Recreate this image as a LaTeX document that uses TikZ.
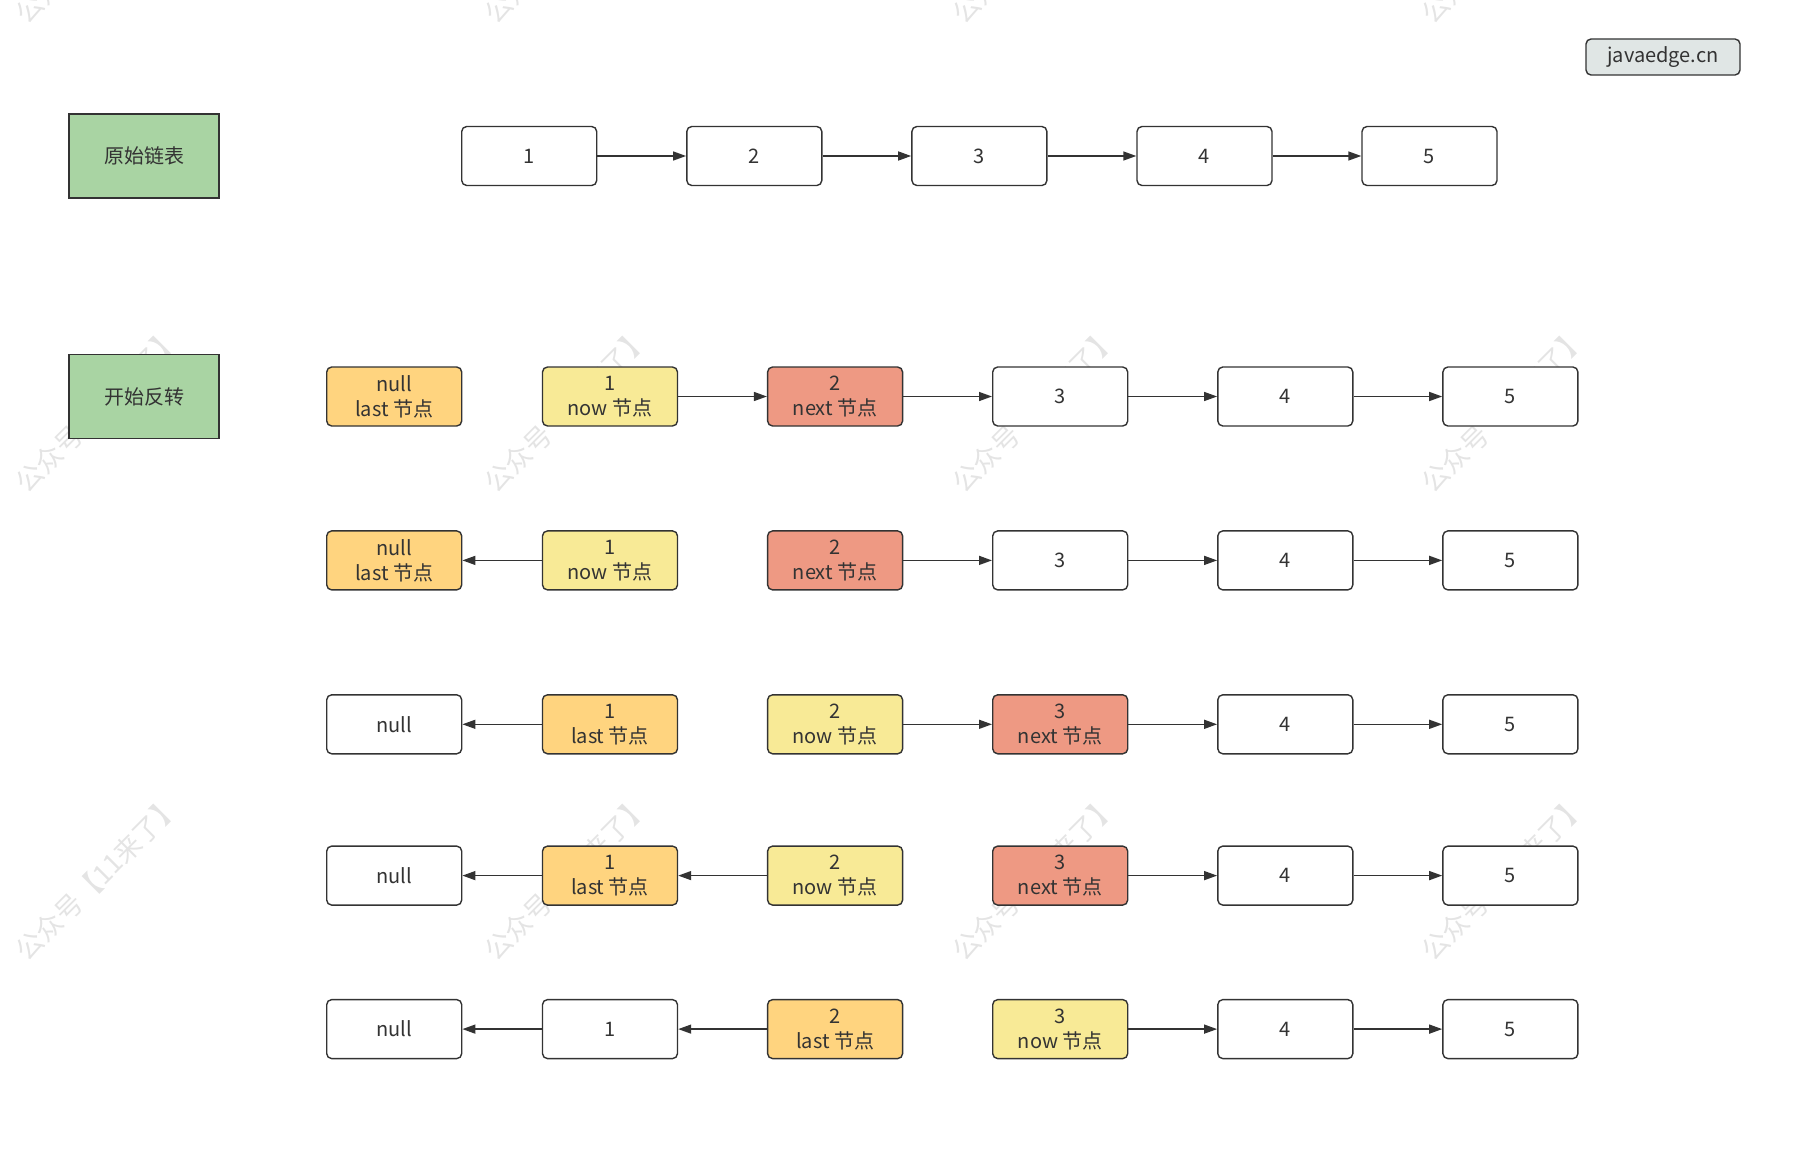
\documentclass[tikz,border=0pt]{standalone}
\usepackage{fontspec}
\setmainfont{Noto Sans CJK SC}
\usetikzlibrary{arrows.meta}
\definecolor{ln}{HTML}{333333}
\definecolor{cOr}{HTML}{FFD47F}
\definecolor{cYe}{HTML}{F8EA96}
\definecolor{cRe}{HTML}{EE9983}
\definecolor{cGr}{HTML}{A9D4A3}
\definecolor{cTag}{HTML}{E0E6E5}
\definecolor{wm}{HTML}{E4E4E4}
\tikzset{
  box/.style={draw=ln, line width=1.4pt, rounded corners=5pt, minimum width=135pt, minimum height=59pt, inner sep=0pt, align=center, font=\fontsize{20}{25}\selectfont, text=ln, fill=white},
  lbl/.style={draw=ln, line width=1.4pt, fill=cGr, minimum width=150pt, minimum height=84pt, inner sep=0pt, font=\fontsize{20}{25}\selectfont, text=ln},
  tag/.style={draw=ln, line width=1.4pt, rounded corners=5pt, fill=cTag, minimum width=154pt, minimum height=36pt, inner sep=0pt, font=\fontsize{20}{25}\selectfont, text=ln},
  arr/.style={draw=ln, line width=1.4pt, -{Triangle[length=13pt,width=9pt]}},
  wmark/.style={rotate=45, text=wm, font=\fontsize{27}{30}\selectfont, inner sep=0pt},
}
\begin{document}
\begin{tikzpicture}[x=1pt,y=-1pt]
\useasboundingbox (0,0) rectangle (1810,1156);
% watermarks
\begin{scope}
\clip (0,0) rectangle (1810,1156);
\foreach \wx in {98,567,1035,1504}{
  \foreach \wy in {-59,410,878}{
    \node[wmark] (w\wx-\wy) at (\wx,\wy) {公众号【11来了】};
  }
}
\end{scope}
% tag
\node[tag] (tag) at (1663,57) {javaedge.cn};
% labels
\node[lbl] (L1) at (144,156) {原始链表};
\node[lbl] (L2) at (144,396.5) {开始反转};
% top row
\node[box] (t1) at (529.2,156) {1};
\node[box] (t2) at (754.3,156) {2};
\node[box] (t3) at (979.4,156) {3};
\node[box] (t4) at (1204.5,156) {4};
\node[box] (t5) at (1429.5,156) {5};
\draw[arr] (t1) -- (t2);
\draw[arr] (t2) -- (t3);
\draw[arr] (t3) -- (t4);
\draw[arr] (t4) -- (t5);
% row a
\node[box, fill=cOr] (a0) at (394.2,396.5) {null\\last 节点};
\node[box, fill=cYe] (a1) at (610.0,396.5) {1\\now 节点};
\node[box, fill=cRe] (a2) at (835.1,396.5) {2\\next 节点};
\node[box] (a3) at (1060.2,396.5) {3};
\node[box] (a4) at (1285.3,396.5) {4};
\node[box] (a5) at (1510.4,396.5) {5};
\draw[arr] (a1) -- (a2);
\draw[arr] (a2) -- (a3);
\draw[arr] (a3) -- (a4);
\draw[arr] (a4) -- (a5);
% row b
\node[box, fill=cOr] (b0) at (394.2,560.4) {null\\last 节点};
\node[box, fill=cYe] (b1) at (610.0,560.4) {1\\now 节点};
\node[box, fill=cRe] (b2) at (835.1,560.4) {2\\next 节点};
\node[box] (b3) at (1060.2,560.4) {3};
\node[box] (b4) at (1285.3,560.4) {4};
\node[box] (b5) at (1510.4,560.4) {5};
\draw[arr] (b1) -- (b0);
\draw[arr] (b2) -- (b3);
\draw[arr] (b3) -- (b4);
\draw[arr] (b4) -- (b5);
% row c
\node[box] (c0) at (394.2,724.3) {null};
\node[box, fill=cOr] (c1) at (610.0,724.3) {1\\last 节点};
\node[box, fill=cYe] (c2) at (835.1,724.3) {2\\now 节点};
\node[box, fill=cRe] (c3) at (1060.2,724.3) {3\\next 节点};
\node[box] (c4) at (1285.3,724.3) {4};
\node[box] (c5) at (1510.4,724.3) {5};
\draw[arr] (c1) -- (c0);
\draw[arr] (c2) -- (c3);
\draw[arr] (c3) -- (c4);
\draw[arr] (c4) -- (c5);
% row d
\node[box] (d0) at (394.2,875.6) {null};
\node[box, fill=cOr] (d1) at (610.0,875.6) {1\\last 节点};
\node[box, fill=cYe] (d2) at (835.1,875.6) {2\\now 节点};
\node[box, fill=cRe] (d3) at (1060.2,875.6) {3\\next 节点};
\node[box] (d4) at (1285.3,875.6) {4};
\node[box] (d5) at (1510.4,875.6) {5};
\draw[arr] (d1) -- (d0);
\draw[arr] (d2) -- (d1);
\draw[arr] (d3) -- (d4);
\draw[arr] (d4) -- (d5);
% row e
\node[box] (e0) at (394.2,1029.1) {null};
\node[box] (e1) at (610.0,1029.1) {1};
\node[box, fill=cOr] (e2) at (835.1,1029.1) {2\\last 节点};
\node[box, fill=cYe] (e3) at (1060.2,1029.1) {3\\now 节点};
\node[box] (e4) at (1285.3,1029.1) {4};
\node[box] (e5) at (1510.4,1029.1) {5};
\draw[arr] (e1) -- (e0);
\draw[arr] (e2) -- (e1);
\draw[arr] (e3) -- (e4);
\draw[arr] (e4) -- (e5);
\end{tikzpicture}
\end{document}
